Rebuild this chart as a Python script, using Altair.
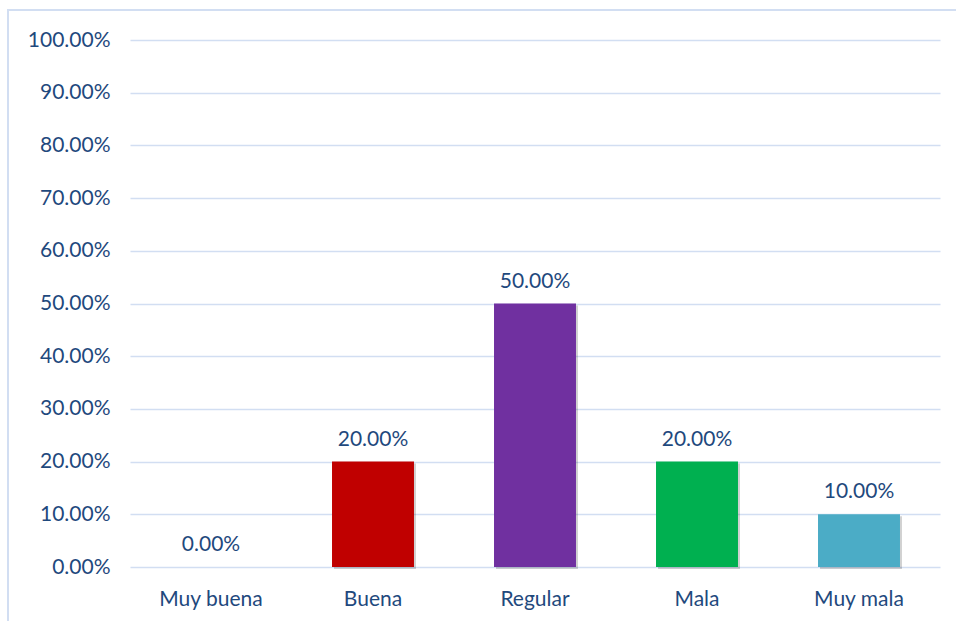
import altair as alt
import pandas as pd

categories = ["Muy buena", "Buena", "Regular", "Mala", "Muy mala"]
values = [0.0, 0.20, 0.50, 0.20, 0.10]
colors = ["#4472C4", "#C00000", "#7030A0", "#00B050", "#4BACC6"]
y_ticks = [i / 10 for i in range(11)]

df = pd.DataFrame({"cat": categories, "val": values, "col": colors})

TEXT = "#1F497D"
GRID = "#D2DEF2"
FONT = "Lato"
FS = 21

xenc = alt.X("cat:N", sort=categories,
             scale=alt.Scale(paddingInner=0.494, paddingOuter=0.247),
             axis=alt.Axis(title=None, labelAngle=0, labelPadding=21, ticks=False,
                           domain=False, labelFont=FONT, labelFontSize=FS,
                           labelColor=TEXT, grid=False))
yenc = alt.Y("val:Q", scale=alt.Scale(domain=[0, 1], nice=False),
             axis=alt.Axis(title=None, values=y_ticks, format=".2%", ticks=False,
                           domain=False, labelPadding=20, labelFont=FONT,
                           labelFontSize=FS, labelColor=TEXT, grid=True,
                           gridColor=GRID, gridWidth=1.5))

base = alt.Chart(df)

shadow = base.mark_bar(color="#000000", opacity=0.18, xOffset=2, yOffset=2).encode(
    x=xenc, y=yenc)
bars = base.mark_bar().encode(
    x=xenc, y=yenc, color=alt.Color("col:N", scale=None))
labels = base.mark_text(baseline="bottom", dy=-12, font=FONT, fontSize=FS, color=TEXT).encode(
    x=alt.X("cat:N", sort=categories), y="val:Q",
    text=alt.Text("val:Q", format=".2%"))

border = alt.Chart(pd.DataFrame({"a": [0]})).mark_rect(
    fill=None, stroke=GRID, strokeWidth=2).encode(
    x=alt.value(-122), x2=alt.value(850), y=alt.value(-30), y2=alt.value(620))

chart = alt.layer(border, shadow, bars, labels).properties(
    width=810, height=527,
    autosize=alt.AutoSizeParams(type="none"),
    padding={"left": 130, "top": 40, "right": 16, "bottom": 54},
    background="white",
).configure_view(stroke=None)

chart.save("out.html", embed_options={"renderer": "svg", "actions": False})
